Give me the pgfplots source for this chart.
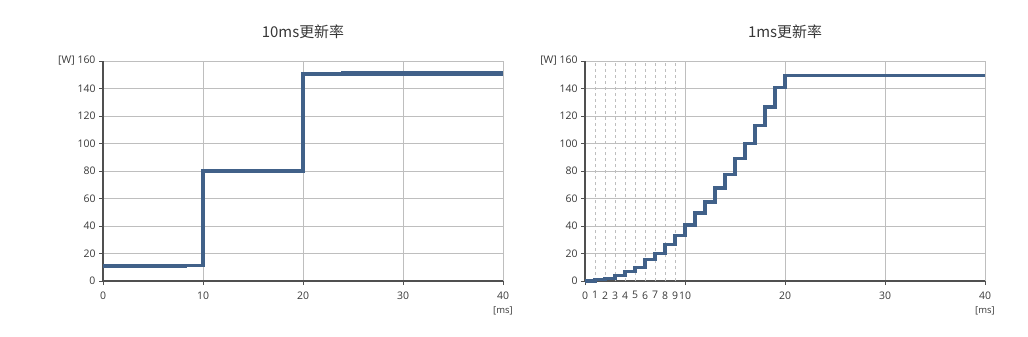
\documentclass[border=0pt]{standalone}
\usepackage{pgfplots}
\pgfplotsset{compat=1.18}
\usepackage{fontspec}
\setmainfont{Open Sans}
\newfontfamily\cjk{Noto Sans CJK SC}
\definecolor{stepblue}{RGB}{65,97,137}
\definecolor{gridgray}{RGB}{190,190,190}
\definecolor{axisgray}{RGB}{80,80,80}
\definecolor{txtgray}{RGB}{55,55,55}
\begin{document}
\begin{tikzpicture}
\path[use as bounding box] (0,0) rectangle (1028bp,337bp);
\pgfplotsset{
  myaxis/.style={
    scale only axis, width=400bp, height=220bp,
    anchor=south west,
    xmin=0, xmax=40, ymin=0, ymax=160,
    ytick={0,20,...,160},
    yticklabels={0,20,40,60,80,100,120,140,{[W]\ 160}},
    axis lines=left, axis line style={-, axisgray, line width=1.2bp},
    grid=major, grid style={gridgray, line width=0.7bp},
    tick align=outside, major tick length=4bp,
    tick style={axisgray, line width=0.8bp},
    tick label style={font=\fontsize{10.5}{12}\selectfont, text=txtgray},
    xticklabel style={yshift=-3bp},
    /pgf/number format/assume math mode=true,
    title style={at={(0.5,1)}, anchor=center, yshift=23bp, font=\cjk\fontsize{15}{18}\selectfont, text=txtgray},
    xlabel style={at={(axis description cs:1,0)}, anchor=center, yshift=-30bp, font=\fontsize{9.5}{11}\selectfont, text=txtgray},
    xlabel={[ms]},
    clip=false,
  }
}
\begin{axis}[myaxis, at={(103bp,56bp)}, xtick={0,10,20,30,40}, title={10ms更新率}]
\addplot[const plot, stepblue, line width=3.2bp] coordinates {(0,11) (10,80) (20,150.5) (40,150.5)};
\addplot[stepblue, line width=4bp] coordinates {(0,11) (8.4,11)};
\addplot[stepblue, line width=4bp] coordinates {(23.8,151) (40,151)};
\end{axis}
\begin{axis}[myaxis, at={(585bp,56bp)}, xtick={0,10,20,30,40},
  extra x ticks={1,2,3,4,5,6,7,8,9},
  extra x tick style={grid style={gridgray, dashed, line width=0.6bp}, tick style={draw=none}},
  title={1ms更新率}]
\addplot[const plot, stepblue, line width=3.2bp] coordinates {
(0,0) (1,1) (2,2) (3,4) (4,6.8) (5,10) (6,15.5) (7,20) (8,26.7) (9,33)
(10,40.7) (11,49.5) (12,57.5) (13,67.6) (14,77.6) (15,89) (16,100) (17,113)
(18,126.5) (19,141) (20,149.5) (40,149.5)};
\end{axis}
\end{tikzpicture}
\end{document}
